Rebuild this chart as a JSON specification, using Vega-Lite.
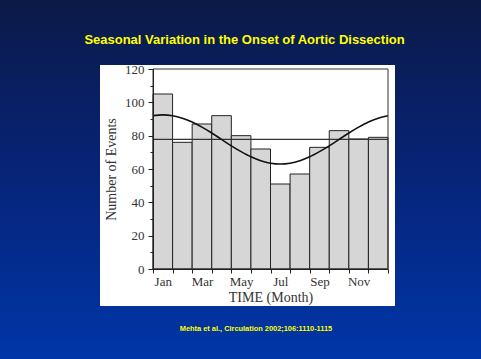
{
  "$schema": "https://vega.github.io/schema/vega-lite/v6.json",
  "width": 235,
  "height": 200,
  "autosize": {"type": "none"},
  "padding": {"left": 153, "top": 69, "right": 93, "bottom": 90},
  "background": "#0a2570",
  "title": {
    "text": "Seasonal Variation in the Onset of Aortic Dissection",
    "color": "#ffff00",
    "font": "Liberation Sans",
    "fontSize": 13,
    "fontWeight": "bold",
    "anchor": "middle",
    "frame": "group",
    "offset": -47,
    "dx": -26
  },
  "config": {
    "view": {"stroke": null},
    "axis": {
      "grid": false,
      "domainColor": "#222",
      "tickColor": "#222",
      "labelColor": "#333",
      "titleColor": "#333",
      "labelFont": "Liberation Serif",
      "titleFont": "Liberation Serif",
      "labelFontSize": 13,
      "titleFontSize": 14,
      "titleFontWeight": "normal"
    }
  },
  "datasets": {
    "months": [
      {"month": "Jan", "start": 0, "end": 1, "events": 105},
      {"month": "Feb", "start": 1, "end": 2, "events": 76},
      {"month": "Mar", "start": 2, "end": 3, "events": 87},
      {"month": "Apr", "start": 3, "end": 4, "events": 92},
      {"month": "May", "start": 4, "end": 5, "events": 80},
      {"month": "Jun", "start": 5, "end": 6, "events": 72},
      {"month": "Jul", "start": 6, "end": 7, "events": 51},
      {"month": "Aug", "start": 7, "end": 8, "events": 57},
      {"month": "Sep", "start": 8, "end": 9, "events": 73},
      {"month": "Oct", "start": 9, "end": 10, "events": 83},
      {"month": "Nov", "start": 10, "end": 11, "events": 78},
      {"month": "Dec", "start": 11, "end": 12, "events": 79}
    ],
    "fit": [
      {"pos": 0, "fit": 92.0}, {"pos": 0.5, "fit": 92.5}, {"pos": 1, "fit": 92.0},
      {"pos": 1.5, "fit": 90.5}, {"pos": 2, "fit": 88.2}, {"pos": 2.5, "fit": 85.1},
      {"pos": 3, "fit": 81.6}, {"pos": 3.5, "fit": 77.75}, {"pos": 4, "fit": 73.9},
      {"pos": 4.5, "fit": 70.4}, {"pos": 5, "fit": 67.3}, {"pos": 5.5, "fit": 65.0},
      {"pos": 6, "fit": 63.5}, {"pos": 6.5, "fit": 63.0}, {"pos": 7, "fit": 63.5},
      {"pos": 7.5, "fit": 65.0}, {"pos": 8, "fit": 67.3}, {"pos": 8.5, "fit": 70.4},
      {"pos": 9, "fit": 73.9}, {"pos": 9.5, "fit": 77.75}, {"pos": 10, "fit": 81.6},
      {"pos": 10.5, "fit": 85.1}, {"pos": 11, "fit": 88.2}, {"pos": 11.5, "fit": 90.5},
      {"pos": 12, "fit": 92.0}
    ],
    "note": [
      {"text": "Mehta et al., Circulation 2002;106:1110-1115"}
    ]
  },
  "layer": [
    {
      "data": {"name": "note"},
      "mark": {
        "type": "rect",
        "fill": {
          "gradient": "linear",
          "x1": 0, "y1": 0, "x2": 0, "y2": 1,
          "stops": [
            {"offset": 0, "color": "#0b1a47"},
            {"offset": 0.5, "color": "#07247a"},
            {"offset": 1, "color": "#0036a8"}
          ]
        }
      },
      "encoding": {
        "x": {
          "datum": -7.82, "type": "quantitative",
          "scale": {"domain": [0, 12], "nice": false},
          "axis": {
            "zindex": 2,
            "title": "TIME (Month)",
            "values": [0, 0.5, 1, 2, 2.5, 3, 4, 4.5, 5, 6, 6.5, 7, 8, 8.5, 9, 10, 10.5, 11, 12],
            "tickCount": 100,
            "labelExpr": "datum.value % 1 === 0.5 ? ['Jan','Feb','Mar','Apr','May','Jun','Jul','Aug','Sep','Oct','Nov','Dec'][floor(datum.value)] : ''",
            "tickOpacity": {"condition": {"test": "datum.value % 1 === 0", "value": 1}, "value": 0},
            "labelOverlap": false,
            "labelFlush": false,
            "labelBound": false,
            "tickSize": 4,
            "labelPadding": 2,
            "titlePadding": 2
          }
        },
        "x2": {"datum": 16.75},
        "y": {
          "datum": 161.4, "type": "quantitative",
          "scale": {"domain": [0, 120], "nice": false},
          "axis": {
            "zindex": 2,
            "title": "Number of Events",
            "values": [0, 10, 20, 30, 40, 50, 60, 70, 80, 90, 100, 110, 120],
            "tickCount": 100,
            "labelExpr": "datum.value % 20 === 0 ? datum.label : ''",
            "tickSize": {"condition": {"test": "datum.value % 20 === 0", "value": 5}, "value": 3},
            "labelOverlap": false,
            "labelFlush": false,
            "labelBound": false,
            "labelPadding": 4,
            "titlePadding": 6
          }
        },
        "y2": {"datum": -54}
      }
    },
    {
      "data": {"name": "note"},
      "mark": {"type": "rect", "fill": "#ffffff"},
      "encoding": {
        "x": {"datum": -2.706, "type": "quantitative", "scale": {"domain": [0, 12], "nice": false}},
        "x2": {"datum": 12.357},
        "y": {"datum": 122.4, "type": "quantitative", "scale": {"domain": [0, 120], "nice": false}},
        "y2": {"datum": -22.2}
      }
    },
    {
      "data": {"name": "months"},
      "mark": {"type": "rect", "fill": "#d6d6d6", "stroke": "#222", "strokeWidth": 1},
      "encoding": {
        "x": {"field": "start", "type": "quantitative", "scale": {"domain": [0, 12], "nice": false}},
        "x2": {"field": "end"},
        "y": {"field": "events", "type": "quantitative", "scale": {"domain": [0, 120], "nice": false}},
        "y2": {"datum": 0}
      }
    },
    {
      "data": {"name": "note"},
      "mark": {"type": "rule", "color": "#333", "strokeWidth": 1.2},
      "encoding": {
        "y": {"datum": 77.75, "type": "quantitative", "scale": {"domain": [0, 120], "nice": false}}
      }
    },
    {
      "data": {"name": "fit"},
      "mark": {"type": "line", "color": "#111", "strokeWidth": 1.6, "interpolate": "monotone"},
      "encoding": {
        "x": {"field": "pos", "type": "quantitative", "scale": {"domain": [0, 12], "nice": false}},
        "y": {"field": "fit", "type": "quantitative", "scale": {"domain": [0, 120], "nice": false}}
      }
    },
    {
      "data": {"name": "note"},
      "mark": {"type": "rect", "fill": null, "stroke": "#333", "strokeWidth": 1},
      "encoding": {
        "x": {"datum": 0, "type": "quantitative", "scale": {"domain": [0, 12], "nice": false}},
        "x2": {"datum": 12},
        "y": {"datum": 0, "type": "quantitative", "scale": {"domain": [0, 120], "nice": false}},
        "y2": {"datum": 120}
      }
    },
    {
      "data": {"name": "note"},
      "mark": {"type": "text", "color": "#ffff00", "font": "Liberation Sans", "fontSize": 7.4, "fontWeight": "bold", "align": "center", "baseline": "middle"},
      "encoding": {
        "text": {"field": "text"},
        "x": {"datum": 5.26, "type": "quantitative", "scale": {"domain": [0, 12], "nice": false}},
        "y": {"datum": -36, "type": "quantitative", "scale": {"domain": [0, 120], "nice": false}}
      }
    }
  ]
}
